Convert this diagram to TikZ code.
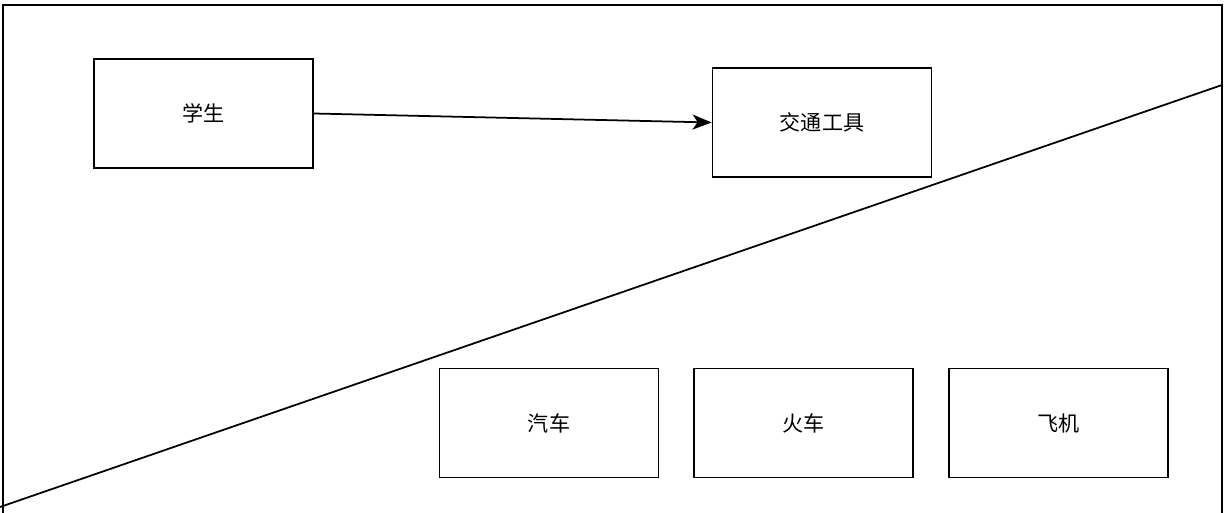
\documentclass[tikz,border=0pt]{standalone}
\usepackage{fontspec}
\newfontfamily\cjk{Noto Sans CJK SC}
\usetikzlibrary{arrows.meta}
\usetikzlibrary{positioning}

\begin{document}
\begin{tikzpicture}[every node/.style={draw,line width=1pt,minimum width=4.38cm,minimum height=2.18cm,font=\cjk\fontsize{12}{14}\selectfont}]
  \useasboundingbox (0,0) rectangle (24.52,10.24);
  \coordinate (bl) at (0.06,-0.2);
  \coordinate (tl) at (0.06,10.14);
  \coordinate (tr) at (24.44,10.14);
  \coordinate (br) at (24.44,-0.2);
  \coordinate (lo) at (0,0.1);
  \coordinate (hi) at (24.44,8.54);

  \node (xuesheng) at (4.07,7.97){学生};
  \node (jiaotong) at (16.44,7.79){交通工具};

  \node (qiche) at (10.98,1.78){汽车};
  \node[right =0.68cm of qiche](huoche){火车};
  \node[right =0.68cm of huoche](feiji){飞机};

  \draw[line width=1pt](bl)--(tl)--(tr)--(br);
  \draw[line width=1pt](lo)--(hi);
  \draw[line width=1pt,-{Stealth[length=0.38cm,width=0.3cm,inset=0.1cm]}](xuesheng.east)--(jiaotong.west);
\end{tikzpicture}
\end{document}
